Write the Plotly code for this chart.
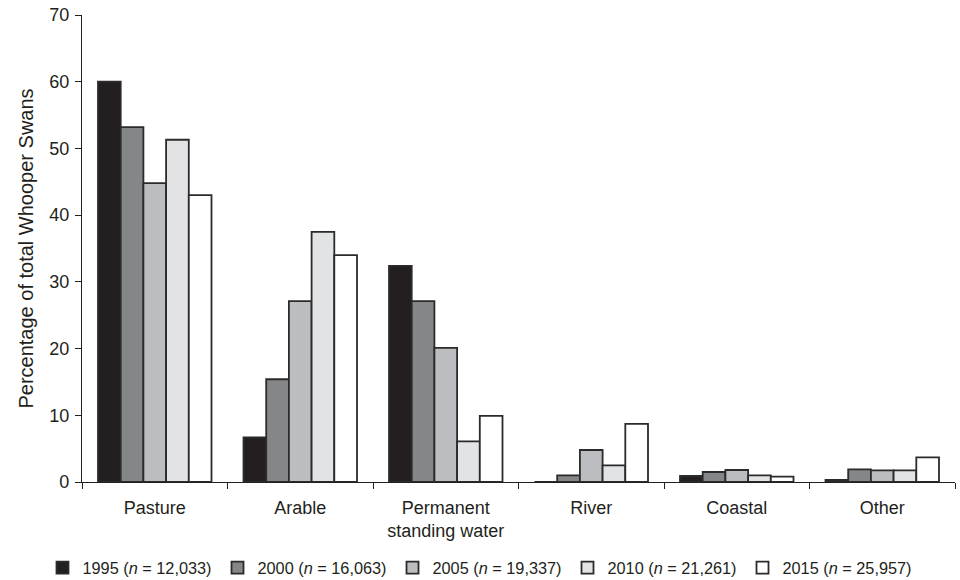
import plotly.graph_objects as go

categories = ["Pasture", "Arable", "Permanent<br>standing water", "River", "Coastal", "Other"]
series_names = [
    "1995 (<i>n</i> = 12,033)",
    "2000 (<i>n</i> = 16,063)",
    "2005 (<i>n</i> = 19,337)",
    "2010 (<i>n</i> = 21,261)",
    "2015 (<i>n</i> = 25,957)",
]
v1995 = [60.0, 6.7, 32.4, 0.0, 0.9, 0.3]
v2000 = [53.2, 15.4, 27.1, 1.0, 1.5, 1.9]
v2005 = [44.8, 27.1, 20.1, 4.8, 1.8, 1.75]
v2010 = [51.3, 37.5, 6.1, 2.5, 1.0, 1.75]
v2015 = [43.0, 34.0, 9.9, 8.7, 0.8, 3.7]
values = [v1995, v2000, v2005, v2010, v2015]
colors = ["#231f20", "#858688", "#bcbdc0", "#e2e3e5", "#ffffff"]

fig = go.Figure()
for name, vals, col in zip(series_names, values, colors):
    fig.add_trace(go.Bar(
        x=categories, y=vals, name=name,
        marker=dict(color=col, line=dict(color="#2b2b2b", width=1.8)),
    ))

fig.update_layout(
    width=960, height=580,
    barmode="group", bargap=0.22, bargroupgap=0,
    plot_bgcolor="white", paper_bgcolor="white",
    margin=dict(l=82, r=5, t=15, b=98),
    font=dict(family="Liberation Sans, Arial, sans-serif", color="#231f20", size=16),
    showlegend=True,
    legend=dict(orientation="h", xref="container", yref="container",
                x=0.5, xanchor="center", y=0.0207, yanchor="middle",
                font=dict(size=16.3), itemwidth=30, entrywidth=130,
                traceorder="normal"),
)
fig.update_yaxes(
    range=[0, 70], dtick=10, showgrid=False, zeroline=False, automargin=False,
    showline=True, linecolor="#231f20", linewidth=1.2,
    ticks="outside", ticklen=6, tickcolor="#231f20", tickfont=dict(size=18),
    ticklabelstandoff=2, ticklabeloverflow="allow",
    title=dict(text="Percentage of total Whooper Swans", font=dict(size=20), standoff=10),
)
fig.update_xaxes(
    showgrid=False, showline=True, linecolor="#231f20", linewidth=1.2, automargin=False,
    ticks="outside", tickson="boundaries", ticklen=6, tickcolor="#231f20",
    tickfont=dict(size=18), ticklabelstandoff=9,
)

fig.write_html("out.html", config={"displayModeBar": False},
               post_script="document.body.style.margin='0';")
